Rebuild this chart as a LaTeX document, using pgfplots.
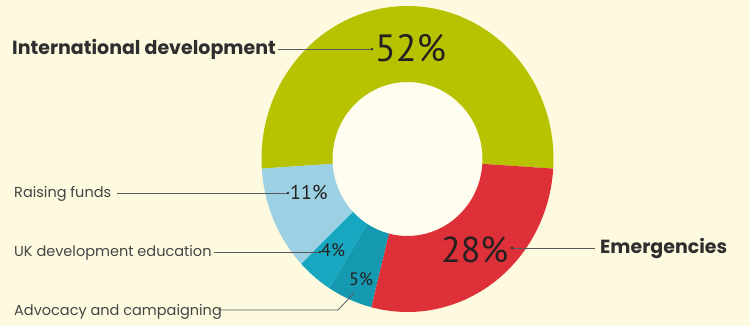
\documentclass[border=0pt]{standalone}
\usepackage{pgfplots}
\pgfplotsset{compat=1.18}
\usepackage{pgfplotstable}
\usepackage{fontspec}
\setmainfont{Poppins}
\newfontfamily\pctfont{PT Sans}
\definecolor{bg}{HTML}{FDFAE0}
\definecolor{hole}{HTML}{FFFDF0}
\definecolor{cIntl}{HTML}{B7C300}
\definecolor{cEmerg}{HTML}{DD3038}
\definecolor{cAdv}{HTML}{1499B0}
\definecolor{cUK}{HTML}{17A7C0}
\definecolor{cRaise}{HTML}{9BD1E3}
\definecolor{txt}{HTML}{2E2E2E}
\definecolor{txtl}{HTML}{454545}
\definecolor{pct}{HTML}{262020}
\definecolor{lead}{HTML}{5A5A5A}

\pgfplotstableread{
slice value
Intl 52
Emerg 28
Adv 5
UK 4
Raise 11
}\donutdata

\newcommand\getv[2]{\pgfplotstablegetelem{#1}{value}\of\donutdata\global\let#2\pgfplotsretval}
\newcommand\donutslice[3]{%
  \fill[#3] ([shift={(#1:146pt and 153pt)}]axis cs:407.5,167)
    arc[start angle=#1,end angle=#2,x radius=146pt,y radius=153pt]
    -- ([shift={(#2:75pt and 77pt)}]axis cs:407.5,167)
    arc[start angle=#2,end angle=#1,x radius=75pt,y radius=77pt] -- cycle;}

\begin{document}
\begin{tikzpicture}
\getv{0}\vA \getv{1}\vB \getv{2}\vC \getv{3}\vD \getv{4}\vE
\pgfmathsetmacro\aA{90+1.8*\vA}
\pgfmathsetmacro\aB{\aA-3.6*\vA}
\pgfmathsetmacro\aC{\aB-3.6*\vB}
\pgfmathsetmacro\aD{\aC-3.6*\vC}
\pgfmathsetmacro\aE{\aD-3.6*\vD}
\pgfmathsetmacro\aF{\aE-3.6*\vE}
\begin{axis}[
  width=750pt, height=326pt, scale only axis,
  xmin=0, xmax=750, ymin=0, ymax=326,
  hide axis, clip=false]
\fill[bg] (axis cs:0,0) rectangle (axis cs:750,326);
\fill[hole] (axis cs:407.5,167) ellipse[x radius=75pt, y radius=77pt];
\donutslice{\aA}{\aB}{cIntl}
\donutslice{\aB}{\aC}{cEmerg}
\donutslice{\aC}{\aD}{cAdv}
\donutslice{\aD}{\aE}{cUK}
\donutslice{\aE}{\aF}{cRaise}
% leaders
\draw[lead, line width=0.8pt] (axis cs:278,277) -- (axis cs:372,277);
\fill[txt] (axis cs:372,277) circle[radius=1.4pt];
\draw[lead, line width=0.8pt] (axis cs:117,133) -- (axis cs:288,133);
\fill[txt] (axis cs:288,133) circle[radius=1.4pt];
\draw[lead, line width=0.8pt] (axis cs:214,74) -- (axis cs:320,74);
\fill[txt] (axis cs:320,74) circle[radius=1.4pt];
\draw[lead, line width=0.8pt] (axis cs:218,16) -- (axis cs:338,16) -- (axis cs:354,33);
\draw[lead, line width=0.8pt] (axis cs:512,78) -- (axis cs:595,78);
\fill[txt] (axis cs:512,78) circle[radius=1.4pt];
% labels
\node[anchor=base west, inner sep=0pt, text=txt, font=\fontsize{19}{22}\selectfont\bfseries] at (axis cs:12,271) {International development};
\node[anchor=base west, inner sep=0pt, text=txt, font=\fontsize{19}{22}\selectfont\bfseries] at (axis cs:600,72) {Emergencies};
\node[anchor=base west, inner sep=0pt, text=txtl, font=\fontsize{14.5}{17}\selectfont] at (axis cs:14,128) {Raising funds};
\node[anchor=base west, inner sep=0pt, text=txtl, font=\fontsize{14.5}{17}\selectfont] at (axis cs:14,69) {UK development education};
\node[anchor=base west, inner sep=0pt, text=txtl, font=\fontsize{14.5}{17}\selectfont] at (axis cs:14,10) {Advocacy and campaigning};
% percentages
\node[anchor=base west, inner sep=0pt, text=pct, font=\pctfont\fontsize{38}{40}\selectfont] at (axis cs:375,264) {52\%};
\node[anchor=base west, inner sep=0pt, text=pct, font=\pctfont\fontsize{36}{40}\selectfont] at (axis cs:441,63) {28\%};
\node[anchor=base west, inner sep=0pt, text=pct, font=\pctfont\fontsize{20}{24}\selectfont] at (axis cs:290,126) {11\%};
\node[anchor=base west, inner sep=0pt, text=pct, font=\pctfont\fontsize{18}{22}\selectfont] at (axis cs:321,69) {4\%};
\node[anchor=base west, inner sep=0pt, text=pct, font=\pctfont\fontsize{18}{22}\selectfont] at (axis cs:349,40) {5\%};
\end{axis}
\end{tikzpicture}
\end{document}
